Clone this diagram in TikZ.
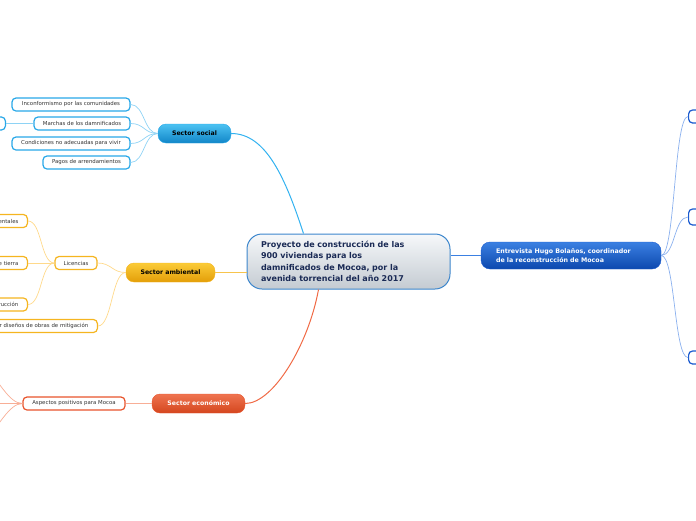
\documentclass[tikz,border=0pt]{standalone}
\usepackage{fontspec}
\setmainfont{DejaVu Sans}
\usetikzlibrary{calc}
\definecolor{socB}{HTML}{29A8E8}
\definecolor{socM}{HTML}{33B2F0}
\definecolor{socL}{HTML}{8ED3F5}
\definecolor{socT}{HTML}{4CC2F2}
\definecolor{socD}{HTML}{1286C8}
\definecolor{ambB}{HTML}{F5B520}
\definecolor{ambL}{HTML}{FFD98A}
\definecolor{ambT}{HTML}{FBCB38}
\definecolor{ambD}{HTML}{E39E08}
\definecolor{ecoB}{HTML}{E8542C}
\definecolor{ecoM}{HTML}{F06A45}
\definecolor{ecoL}{HTML}{F8AE96}
\definecolor{ecoT}{HTML}{EF7450}
\definecolor{ecoD}{HTML}{D4461E}
\definecolor{entB}{HTML}{1A5ACF}
\definecolor{entL}{HTML}{8AB0EE}
\definecolor{entT}{HTML}{3B80E2}
\definecolor{entD}{HTML}{0C48AE}
\definecolor{cenB}{HTML}{3C86CC}
\definecolor{cenT}{HTML}{F6F8FA}
\definecolor{cenD}{HTML}{C4CBD2}
\definecolor{cenX}{HTML}{1A2A55}
\definecolor{leafX}{HTML}{333333}
\begin{document}
\begin{tikzpicture}[x=1pt,y=-1pt,
  leaf/.style={draw, line width=1.2pt, rounded corners=4pt, fill=white, minimum height=13pt, inner sep=0pt, font=\fontsize{5.4}{6.5}\selectfont, text=leafX},
  sector/.style={rounded corners=8pt, minimum height=19pt, inner sep=0pt, font=\fontsize{6.2}{7}\selectfont\bfseries},
  conn/.style={line width=1pt},
  sub/.style={line width=0.7pt}
]
\useasboundingbox (0,0) rectangle (696,520);

% central
\node[draw=cenB, line width=1pt, rounded corners=15pt, top color=cenT, bottom color=cenD,
  minimum width=203pt, minimum height=55pt, text width=175pt, inner xsep=14pt, align=left,
  font=\fontsize{8}{11.3}\selectfont\bfseries, text=cenX] (cen) at (348.5,261.5)
  {Proyecto de construcción de las\\900 viviendas para los\\damnificados de Mocoa, por la\\avenida torrencial del año 2017};

% sectors
\node[sector, draw=socB, top color=socT, bottom color=socD, minimum width=73pt, text=black] (soc) at (194.5,133.5) {Sector social};
\node[sector, draw=ambB, top color=ambT, bottom color=ambD, minimum width=89pt, text=black] (amb) at (170.5,272.5) {Sector ambiental};
\node[sector, draw=ecoB, top color=ecoT, bottom color=ecoD, minimum width=93pt, text=white] (eco) at (198.5,403.5) {Sector económico};
\node[draw=entB, rounded corners=9pt, top color=entT, bottom color=entD, minimum width=180pt, minimum height=27pt,
  text width=150pt, inner xsep=15pt, align=left, font=\fontsize{6.3}{9.3}\selectfont\bfseries, text=white] (ent) at (571,255.5)
  {Entrevista Hugo Bolaños, coordinador\\de la reconstrucción de Mocoa};

% social leaves
\node[leaf, draw=socB, minimum width=118pt] (s1) at (71,104.5) {Inconformismo por las comunidades};
\node[leaf, draw=socB, minimum width=96pt] (s2) at (82,123.5) {Marchas de los damnificados};
\node[leaf, draw=socB, minimum width=118pt] (s3) at (71,143.5) {Condiciones no adecuadas para vivir};
\node[leaf, draw=socB, minimum width=87pt] (s4) at (86.5,162.5) {Pagos de arrendamientos};
\node[leaf, draw=socB, minimum width=60pt, anchor=east] (s2a) at (6,123.5) {};

% ambiental leaves
\node[leaf, draw=ambB, minimum width=42pt] (lic) at (76,263) {Licencias};
\node[leaf, draw=ambB, anchor=east, text width=80pt, inner xsep=9pt, align=right] (a1) at (28,221) {entales};
\node[leaf, draw=ambB, anchor=east, text width=80pt, inner xsep=9pt, align=right] (a2) at (28,263) {e tierra};
\node[leaf, draw=ambB, anchor=east, text width=80pt, inner xsep=9pt, align=right] (a3) at (28,304.5) {rucción};
\node[leaf, draw=ambB, anchor=east, text width=150pt, inner xsep=9pt, align=right] (a4) at (98,326) {r diseños de obras de mitigación};

% economic leaves
\node[leaf, draw=ecoB, minimum width=102pt] (asp) at (74,403.5) {Aspectos positivos para Mocoa};
\coordinate (e1) at (-12,372);
\coordinate (e2) at (-12,403.5);
\coordinate (e3) at (-12,435);

% entrevista leaves
\node[leaf, draw=entB, minimum width=40pt, anchor=west] (t1) at (688,116.5) {};
\node[leaf, draw=entB, minimum width=40pt, minimum height=16pt, anchor=west] (t2) at (688,217) {};
\node[leaf, draw=entB, minimum width=40pt, anchor=west] (t3) at (688,357.5) {};

% main connectors
\draw[conn, draw=socM] ($(cen.north)+(-45,0)$) .. controls +(-18,-55) and +(35,0) .. (soc.east);
\draw[conn, draw=ambB!80] (cen.west |- amb.east) -- (amb.east);
\draw[conn, draw=ecoM] ($(cen.south)+(-30,0)$) .. controls +(-10,55) and +(28,0) .. (eco.east);
\draw[conn, draw=entT] (cen.east |- ent.west) -- (ent.west);

% social sub connectors
\foreach \n in {s1,s2,s3,s4}
  \draw[sub, draw=socL] (soc.west) .. controls +(-14,0) and +(14,0) .. (\n.east);
\draw[sub, draw=socL] (s2.west) -- (s2a.east);

% ambiental sub connectors
\draw[sub, draw=ambL] (amb.west) .. controls +(-14,0) and +(14,0) .. (lic.east);
\draw[sub, draw=ambL] (amb.west) .. controls +(-14,0) and +(14,0) .. (a4.east);
\foreach \n in {a1,a2,a3}
  \draw[sub, draw=ambL] (lic.west) .. controls +(-14,0) and +(14,0) .. (\n.east);

% economic sub connectors
\draw[sub, draw=ecoL] (eco.west) -- (asp.east);
\draw[sub, draw=ecoL] (asp.west) .. controls +(-14,0) and +(10,6) .. (e1);
\draw[sub, draw=ecoL] (asp.west) -- (e2);
\draw[sub, draw=ecoL] (asp.west) .. controls +(-14,0) and +(10,-6) .. (e3);

% entrevista sub connectors
\foreach \n in {t1,t2,t3}
  \draw[sub, draw=entL] (ent.east) .. controls +(14,0) and +(-14,0) .. (\n.west);
\end{tikzpicture}
\end{document}
